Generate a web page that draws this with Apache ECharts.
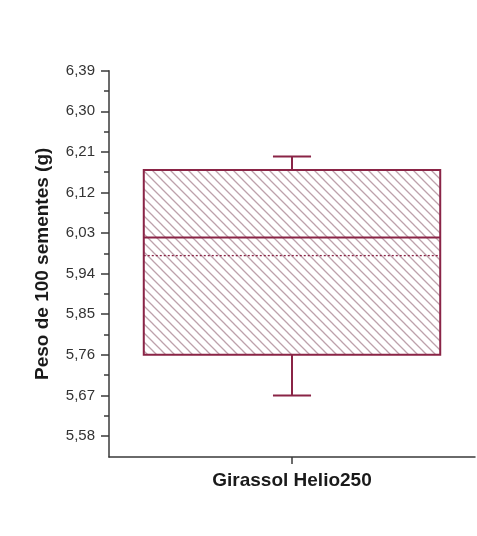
<!DOCTYPE html>
<html>
<head>
<meta charset="utf-8">
<script src="https://cdn.jsdelivr.net/npm/echarts@6/dist/echarts.min.js"></script>
<style>
  html, body { margin: 0; padding: 0; background: #fff; }
  #chart { width: 477px; height: 536px; }
</style>
</head>
<body>
<div id="chart"></div>
<script>
// Seed weight box plot (100 seeds), one cultivar
const categories = ['Girassol Helio250'];
const whiskerLow  = [5.67];
const q1          = [5.76];
const median      = [6.02];
const q3          = [6.17];
const whiskerHigh = [6.20];
const mean        = [5.98];

const yTicks  = [5.58, 5.67, 5.76, 5.85, 5.94, 6.03, 6.12, 6.21, 6.30, 6.39];
const yMinor  = [5.625, 5.715, 5.805, 5.895, 5.985, 6.075, 6.165, 6.255, 6.345];
const yMin = 5.5334;
const yMax = 6.39;

const boxColor = '#8a2446';
const hatchColor = '#bda1ab';
const axisColor = '#3a3a3a';

// diagonal hatch fill for the box
function hatchPattern() {
  const s = 9;
  const c = document.createElement('canvas');
  c.width = s; c.height = s;
  const g = c.getContext('2d');
  g.fillStyle = '#ffffff';
  g.fillRect(0, 0, s, s);
  g.strokeStyle = hatchColor;
  g.lineWidth = 1.3;
  g.beginPath();
  g.moveTo(-1, -1); g.lineTo(s + 1, s + 1);
  g.moveTo(-1, s - 1); g.lineTo(1, s + 1);
  g.moveTo(s - 1, -1); g.lineTo(s + 1, 1);
  g.stroke();
  return c;
}
const pattern = { image: hatchPattern(), repeat: 'repeat' };

const boxData = categories.map((c, i) =>
  [i, whiskerLow[i], q1[i], median[i], q3[i], whiskerHigh[i], mean[i]]);

const chart = echarts.init(document.getElementById('chart'), null, { renderer: 'canvas' });

chart.setOption({
  animation: false,
  backgroundColor: '#ffffff',
  grid: { left: 109, right: 2, top: 70.7, bottom: 79 },
  xAxis: {
    type: 'category',
    data: categories,
    axisLine: { lineStyle: { color: axisColor, width: 1.5 } },
    axisTick: { show: false },
    axisLabel: {
      margin: 14,
      fontFamily: 'Liberation Sans, Arial, sans-serif',
      fontWeight: 'bold',
      fontSize: 19,
      color: '#1a1a1a'
    }
  },
  yAxis: [
    {
      type: 'value',
      min: yMin,
      max: yMax,
      splitLine: { show: false },
      axisLine: { show: true, lineStyle: { color: axisColor, width: 1.5 } },
      axisTick: { show: true, customValues: yTicks, length: 8, lineStyle: { color: axisColor, width: 1.5 } },
      axisLabel: {
        customValues: yTicks,
        margin: 14,
        fontFamily: 'Liberation Sans, Arial, sans-serif',
        fontSize: 15,
        color: '#333',
        formatter: v => v.toFixed(2).replace('.', ',')
      },
      name: 'Peso de 100 sementes (g)',
      nameLocation: 'middle',
      nameRotate: 90,
      nameGap: 57,
      nameTextStyle: {
        fontFamily: 'Liberation Sans, Arial, sans-serif',
        fontWeight: 'bold',
        fontSize: 19,
        color: '#1a1a1a'
      }
    },
    {
      type: 'value',
      min: yMin,
      max: yMax,
      position: 'left',
      splitLine: { show: false },
      axisLine: { show: false },
      axisTick: { show: true, customValues: yMinor, length: 5, lineStyle: { color: axisColor, width: 1.5 } },
      axisLabel: { show: false }
    }
  ],
  series: [{
    type: 'custom',
    data: boxData,
    clip: false,
    encode: { x: 0, y: [1, 2, 3, 4, 5, 6] },
    renderItem: function (params, api) {
      const idx = api.value(0);
      const band = api.size([1, 0])[0];
      const half = band * 0.405;
      const capHalf = band * 0.052;
      const pLow = api.coord([idx, api.value(1)]);
      const pQ1 = api.coord([idx, api.value(2)]);
      const pMed = api.coord([idx, api.value(3)]);
      const pQ3 = api.coord([idx, api.value(4)]);
      const pHigh = api.coord([idx, api.value(5)]);
      const pMean = api.coord([idx, api.value(6)]);
      const pBase = api.coord([idx, yMin]);
      const x = pMed[0];
      const line = { stroke: boxColor, lineWidth: 2 };
      return {
        type: 'group',
        children: [
          // category tick below the x axis
          { type: 'line', shape: { x1: x, y1: pBase[1], x2: x, y2: pBase[1] + 7 },
            style: { stroke: axisColor, lineWidth: 1.5 } },
          { type: 'line', shape: { x1: x, y1: pQ3[1], x2: x, y2: pHigh[1] }, style: line },
          { type: 'line', shape: { x1: x - capHalf, y1: pHigh[1], x2: x + capHalf, y2: pHigh[1] }, style: line },
          { type: 'line', shape: { x1: x, y1: pQ1[1], x2: x, y2: pLow[1] }, style: line },
          { type: 'line', shape: { x1: x - capHalf, y1: pLow[1], x2: x + capHalf, y2: pLow[1] }, style: line },
          {
            type: 'rect',
            shape: { x: x - half, y: pQ3[1], width: half * 2, height: pQ1[1] - pQ3[1] },
            style: { fill: pattern, stroke: boxColor, lineWidth: 2 }
          },
          { type: 'line', shape: { x1: x - half, y1: pMed[1], x2: x + half, y2: pMed[1] }, style: line },
          {
            type: 'line',
            shape: { x1: x - half, y1: pMean[1], x2: x + half, y2: pMean[1] },
            style: { stroke: boxColor, lineWidth: 1.3, lineDash: [2, 2] }
          }
        ]
      };
    }
  }]
});
</script>
</body>
</html>
